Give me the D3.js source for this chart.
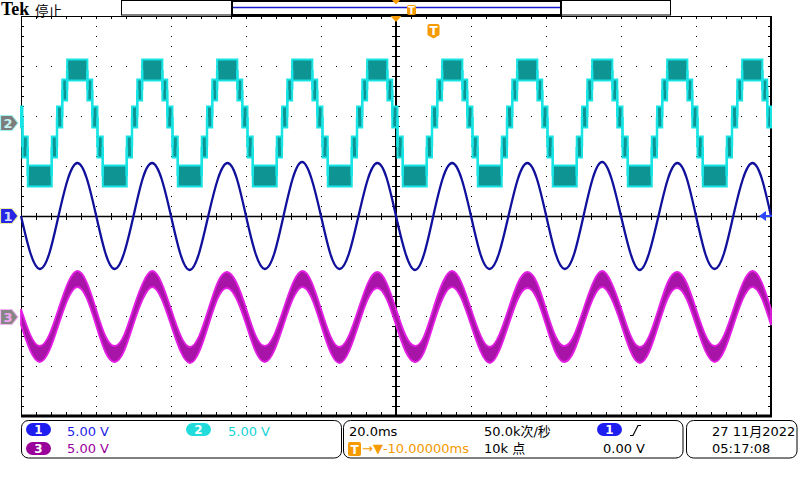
<!DOCTYPE html>
<html><head><meta charset="utf-8">
<script src="https://cdn.jsdelivr.net/npm/d3@7"></script>
<style>html,body{margin:0;padding:0;background:#fff;overflow:hidden}</style>
</head><body><svg id="c" width="800" height="480"></svg>
<script>
const sampleStartMs = -100, sampleStepMs = 2.5;   // sample grid of the traces
// CH1 (blue) volts, every 2.5 ms from -100 ms to +100 ms
const ch1Volts = [
  0.0,-3.7,-5.3,-3.8, 0.0, 3.7, 5.3, 3.8,
  0.1,-3.7,-5.3,-3.7, 0.0, 3.8, 5.3, 3.7,
  0.0,-3.8,-5.4,-3.7, 0.1, 3.7, 5.3, 3.8,
  0.0,-3.7,-5.3,-3.8, 0.0, 3.8, 5.4, 3.7,
  0.0,-3.8,-5.3,-3.7, 0.0, 3.7, 5.3, 3.8,
  0.0,-3.7,-5.4,-3.8, 0.1, 3.8, 5.3, 3.7,
  0.0,-3.8,-5.3,-3.7, 0.0, 3.7, 5.3, 3.8,
  0.1,-3.7,-5.3,-3.8, 0.0, 3.8, 5.4, 3.7,
  0.0,-3.7,-5.4,-3.7, 0.0, 3.7, 5.3, 3.8,
  0.0,-3.8,-5.3,-3.7, 0.1, 3.7, 5.3, 3.8,
  0.0];
// CH3 (magenta) volts, same sample grid (centre of the noisy band)
const ch3Volts = [
  0.0,-2.6,-3.7,-2.6, 0.0, 2.6, 3.8, 2.7,
  0.0,-2.7,-3.7,-2.6, 0.1, 2.6, 3.8, 2.6,
  0.0,-2.6,-3.8,-2.7, 0.0, 2.7, 3.7, 2.6,
  0.1,-2.6,-3.7,-2.6, 0.0, 2.6, 3.8, 2.7,
  0.0,-2.7,-3.8,-2.6, 0.0, 2.6, 3.7, 2.6,
  0.0,-2.6,-3.7,-2.7, 0.1, 2.7, 3.8, 2.6,
  0.0,-2.6,-3.8,-2.6, 0.0, 2.6, 3.7, 2.7,
  0.0,-2.7,-3.7,-2.6, 0.0, 2.6, 3.8, 2.6,
  0.1,-2.6,-3.8,-2.7, 0.0, 2.7, 3.7, 2.6,
  0.0,-2.6,-3.7,-2.6, 0.0, 2.6, 3.8, 2.7,
  0.0];
const ch3NoiseV = 0.8;
// CH2 (cyan) staircase: start time (ms) of each level and its level (V)
const ch2StepMs = [
  -100,-99.6,-98.2,-91.8,-90.4,-89.0,-87.7,-82.3,-81.0,
   -80,-79.6,-78.2,-71.8,-70.4,-69.0,-67.7,-62.3,-61.0,
   -60,-59.6,-58.2,-51.8,-50.4,-49.0,-47.7,-42.3,-41.0,
   -40,-39.6,-38.2,-31.8,-30.4,-29.0,-27.7,-22.3,-21.0,
   -20,-19.6,-18.2,-11.8,-10.4, -9.0, -7.7, -2.3, -1.0,
     0,  0.4,  1.8,  8.2,  9.6, 11.0, 12.3, 17.7, 19.0,
    20, 20.4, 21.8, 28.2, 29.6, 31.0, 32.3, 37.7, 39.0,
    40, 40.4, 41.8, 48.2, 49.6, 51.0, 52.3, 57.7, 59.0,
    60, 60.4, 61.8, 68.2, 69.6, 71.0, 72.3, 77.7, 79.0,
    80, 80.4, 81.8, 88.2, 89.6, 91.0, 92.3, 97.7, 99.0,
   100];
const ch2StepVolts = [
  0.6,-2.4,-5.3,-2.4,0.6,3.3,5.3,3.3,0.6,
  0.6,-2.4,-5.3,-2.4,0.6,3.3,5.3,3.3,0.6,
  0.6,-2.4,-5.3,-2.4,0.6,3.3,5.3,3.3,0.6,
  0.6,-2.4,-5.3,-2.4,0.6,3.3,5.3,3.3,0.6,
  0.6,-2.4,-5.3,-2.4,0.6,3.3,5.3,3.3,0.6,
  0.6,-2.4,-5.3,-2.4,0.6,3.3,5.3,3.3,0.6,
  0.6,-2.4,-5.3,-2.4,0.6,3.3,5.3,3.3,0.6,
  0.6,-2.4,-5.3,-2.4,0.6,3.3,5.3,3.3,0.6,
  0.6,-2.4,-5.3,-2.4,0.6,3.3,5.3,3.3,0.6,
  0.6,-2.4,-5.3,-2.4,0.6,3.3,5.3,3.3,0.6,
  0.6];
const ch2NoiseV = 1.05;
// channel positions (V at 5 V/div) and labels
const channelIds = ["1", "2", "3"];
const channelOffsetV = [0, 9.3, -10.1];
const channelScaleLabels = ["5.00 V", "5.00 V", "5.00 V"];
const timebaseLabel = "20.0ms";
const triggerDelayLabel = "→▼-10.00000ms";
const sampleRateLabel = "50.0k次/秒";
const recordLabel = "10k 点";
const triggerLevelLabel = "0.00 V";
const dateLabel = "27 11月2022";
const clockLabel = "05:17:08";
const statusLabel = "停止";
const triggerTimeMs = 0, triggerMarkMs = 10;

// ---------------- DRAWING ----------------
const svg = d3.select("#c");
const L = 21, R = 771, T = 16, B = 416;
const x = d3.scaleLinear().domain([-100, 100]).range([L, R]);
const y = d3.scaleLinear().domain([-20, 20]).range([B, T]);
const FONT = "'DejaVu Sans','Noto Sans CJK SC',sans-serif";
const ORANGE = "#f59a00";
const col = {c1: "#10109c", c2: "#18e4e4", c2d: "#0f9494", c3: "#e41ee4", c3d: "#a814a8"};

// graticule
const g = svg.append("g");
for (let i = 1; i < 10; i++) {
  if (i === 5) continue;
  const xx = Math.round(x(-100 + 20 * i)) + 0.5;
  g.append("line").attr("x1", xx).attr("x2", xx).attr("y1", T).attr("y2", B)
    .attr("stroke", "#000").attr("stroke-dasharray", "1,9");
}
for (let j = 1; j < 8; j++) {
  if (j === 4) continue;
  const yy = Math.round(y(-20 + 5 * j)) + 0.5;
  g.append("line").attr("x1", L).attr("x2", R).attr("y1", yy).attr("y2", yy)
    .attr("stroke", "#000").attr("stroke-dasharray", "1,14");
}
// edge ticks
for (let k = 0; k <= 50; k++) {
  const xx = L + k * 15 + 0.5;
  g.append("line").attr("x1", xx).attr("x2", xx).attr("y1", T).attr("y2", T + 3).attr("stroke", "#000");
  g.append("line").attr("x1", xx).attr("x2", xx).attr("y1", B - 4).attr("y2", B).attr("stroke", "#000");
  g.append("line").attr("x1", xx).attr("x2", xx).attr("y1", y(0) - 3).attr("y2", y(0) + 4).attr("stroke", "#000");
}
for (let k = 0; k <= 40; k++) {
  const yy = T + k * 10 + 0.5;
  g.append("line").attr("x1", L).attr("x2", L + 3).attr("y1", yy).attr("y2", yy).attr("stroke", "#000");
  g.append("line").attr("x1", R - 3).attr("x2", R).attr("y1", yy).attr("y2", yy).attr("stroke", "#000");
  g.append("line").attr("x1", x(0) - 4).attr("x2", x(0) + 4).attr("y1", yy).attr("y2", yy).attr("stroke", "#000");
}
// centre cross and border
g.append("line").attr("x1", L).attr("x2", R).attr("y1", y(0) + 0.5).attr("y2", y(0) + 0.5).attr("stroke", "#000").attr("stroke-width", 1.5);
g.append("line").attr("x1", x(0)).attr("x2", x(0)).attr("y1", T).attr("y2", B).attr("stroke", "#000").attr("stroke-width", 2);
g.append("line").attr("x1", L + 0.5).attr("x2", L + 0.5).attr("y1", T).attr("y2", B).attr("stroke", "#000");
g.append("line").attr("x1", L).attr("x2", R).attr("y1", T + 0.5).attr("y2", T + 0.5).attr("stroke", "#000");
g.append("line").attr("x1", R).attr("x2", R).attr("y1", T).attr("y2", B + 1).attr("stroke", "#000").attr("stroke-width", 2);
g.append("line").attr("x1", L).attr("x2", R + 1).attr("y1", B).attr("y2", B).attr("stroke", "#000").attr("stroke-width", 3);

const tOf = i => sampleStartMs + i * sampleStepMs;

// CH2 staircase band
const off2 = channelOffsetV[1];
const ch2 = ch2StepMs.map((t, i) => ({t, v: ch2StepVolts[i]}));
svg.append("path").datum(ch2)
  .attr("d", d3.area().curve(d3.curveStepAfter).x(d => x(d.t))
    .y0(d => y(d.v + off2 - ch2NoiseV)).y1(d => y(d.v + off2 + ch2NoiseV)))
  .attr("fill", col.c2d).attr("stroke", col.c2).attr("stroke-width", 2);
svg.append("g").selectAll("line").data(ch2.slice(1)).join("line")
  .attr("x1", d => x(d.t)).attr("x2", d => x(d.t))
  .attr("y1", (d, i) => y(ch2[i].v + off2)).attr("y2", d => y(d.v + off2))
  .attr("stroke", col.c2).attr("stroke-width", 2.5);

// CH3 noisy sine band
const off3 = channelOffsetV[2];
svg.append("path").datum(ch3Volts)
  .attr("d", d3.area().curve(d3.curveNatural).x((d, i) => x(tOf(i)))
    .y0(d => y(d + off3 - ch3NoiseV)).y1(d => y(d + off3 + ch3NoiseV)))
  .attr("fill", col.c3d).attr("stroke", col.c3).attr("stroke-width", 1.8);

// CH1 clean sine
const off1 = channelOffsetV[0];
svg.append("path").datum(ch1Volts)
  .attr("d", d3.line().curve(d3.curveNatural).x((d, i) => x(tOf(i))).y(d => y(d + off1)))
  .attr("fill", "none").attr("stroke", col.c1).attr("stroke-width", 2.3);

// channel ground markers (left)
const markerStyle = [
  {fill: "#2626e4", stroke: "#eaeaa0", text: "#d6dcff"},
  {fill: "#7c7c7c", stroke: "#9ff2f2", text: "#c6f2f2"},
  {fill: "#868686", stroke: "#f2b4f2", text: "#f4a6f4"}];
channelIds.forEach((id, i) => {
  const yc = Math.round(y(channelOffsetV[i]));
  const s = markerStyle[i];
  svg.append("path").attr("d", `M0.5,${yc - 7.5} H12 L18,${yc} L12,${yc + 7.5} H0.5 Z`)
    .attr("fill", s.fill).attr("stroke", s.stroke).attr("stroke-width", 1.2);
  svg.append("text").attr("x", 8).attr("y", yc + 5).attr("text-anchor", "middle")
    .attr("font-family", FONT).attr("font-size", 13).attr("font-weight", "bold")
    .attr("fill", s.text).text(id);
});
// trigger level arrow (right)
const yT = y(0 + off1);
svg.append("path").attr("d", `M759,${yT} L766,${yT - 5} V${yT + 5} Z`).attr("fill", "#2a48ff");
svg.append("line").attr("x1", 764).attr("x2", 772).attr("y1", yT).attr("y2", yT).attr("stroke", "#2a48ff").attr("stroke-width", 2);

// top record bar
svg.append("rect").attr("x", 121.5).attr("y", 0.5).attr("width", 549).attr("height", 14.5)
  .attr("fill", "#fff").attr("stroke", "#000");
svg.append("line").attr("x1", 233).attr("x2", 561).attr("y1", 7.5).attr("y2", 7.5).attr("stroke", "#1a1acc").attr("stroke-width", 1.5);
svg.append("rect").attr("x", 232).attr("y", 1).attr("width", 329).attr("height", 14)
  .attr("fill", "none").attr("stroke", "#000").attr("stroke-width", 2);
svg.append("path").attr("d", `M${x(triggerTimeMs) - 4},0 H${x(triggerTimeMs) + 4} L${x(triggerTimeMs)},4.5 Z`).attr("fill", ORANGE);
svg.append("rect").attr("x", 407).attr("y", 5).attr("width", 9).attr("height", 10).attr("rx", 2).attr("fill", ORANGE);
svg.append("text").attr("x", 411.5).attr("y", 13.5).attr("text-anchor", "middle").attr("font-family", FONT)
  .attr("font-size", 10).attr("font-weight", "bold").attr("fill", "#fff").text("T");
svg.append("path").attr("d", `M${x(triggerTimeMs) - 5.5},16 H${x(triggerTimeMs) + 5.5} L${x(triggerTimeMs)},22 Z`).attr("fill", ORANGE);
const xm = x(triggerMarkMs);
svg.append("path").attr("d", `M${xm - 6},26 Q${xm - 6},24 ${xm - 4},24 H${xm + 4} Q${xm + 6},24 ${xm + 6},26 V35 L${xm},38.5 L${xm - 6},35 Z`)
  .attr("fill", ORANGE);
svg.append("text").attr("x", xm).attr("y", 35).attr("text-anchor", "middle").attr("font-family", FONT)
  .attr("font-size", 12).attr("font-weight", "bold").attr("fill", "#fff").text("T");

// Tek logo + status
svg.append("text").attr("x", 1).attr("y", 15).attr("font-family", "'Liberation Serif',serif")
  .attr("font-weight", "bold").attr("font-size", 18).attr("fill", "#000").text("Tek");
svg.append("text").attr("x", 35).attr("y", 15.8).attr("font-family", "'Noto Sans CJK SC',sans-serif")
  .attr("font-size", 13.5).attr("fill", "#000").text(statusLabel);

// bottom panels
[[21.5, 320], [343.5, 339.5], [686.5, 110.5]].forEach(([px, pw]) => {
  svg.append("rect").attr("x", px).attr("y", 420.5).attr("width", pw).attr("height", 37.5)
    .attr("rx", 7).attr("fill", "none").attr("stroke", "#000");
});
function badge(bx, by, id, fill) {
  svg.append("rect").attr("x", bx).attr("y", by).attr("width", 25).attr("height", 13).attr("rx", 6.5).attr("fill", fill);
  svg.append("text").attr("x", bx + 12.5).attr("y", by + 11).attr("text-anchor", "middle")
    .attr("font-family", FONT).attr("font-size", 12).attr("font-weight", "bold").attr("fill", "#fff").text(id);
}
function label(tx, ty, s, fill) {
  svg.append("text").attr("x", tx).attr("y", ty).attr("font-family", FONT).attr("font-size", 13)
    .attr("fill", fill).text(s);
}
const chanText = ["#1e1ee6", "#16d4d4", "#9a009a"];
const chanBadge = ["#1e1ef0", "#22dcdc", "#9a009a"];
badge(26, 423, channelIds[0], chanBadge[0]); label(67, 436, channelScaleLabels[0], chanText[0]);
badge(186, 423, channelIds[1], chanBadge[1]); label(228, 436, channelScaleLabels[1], chanText[1]);
badge(26, 442, channelIds[2], chanBadge[2]); label(67, 453, channelScaleLabels[2], chanText[2]);

label(349, 436, timebaseLabel, "#000");
svg.append("rect").attr("x", 348).attr("y", 442).attr("width", 13).attr("height", 14).attr("rx", 2).attr("fill", ORANGE);
svg.append("text").attr("x", 354.5).attr("y", 454).attr("text-anchor", "middle").attr("font-family", FONT)
  .attr("font-size", 12).attr("font-weight", "bold").attr("fill", "#fff").text("T");
label(362, 453, triggerDelayLabel, ORANGE);
label(484, 436, sampleRateLabel, "#000");
label(484, 453, recordLabel, "#000");
badge(597, 423, channelIds[0], chanBadge[0]);
svg.append("path").attr("d", "M630,435.5 H633 L638,425.5 H641").attr("fill", "none").attr("stroke", "#000").attr("stroke-width", 1.2);
label(603, 453, triggerLevelLabel, "#000");
label(712, 436, dateLabel, "#000");
label(712, 453, clockLabel, "#000");
</script></body></html>
